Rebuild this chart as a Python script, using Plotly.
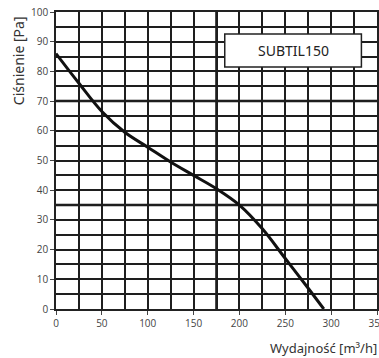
import plotly.graph_objects as go

flow = [0, 25, 50, 75, 100, 125, 150, 175, 200, 225, 250, 275, 292]
pressure = [86, 76, 66.5, 59.5, 54.5, 49.5, 45, 40.5, 35, 27, 17, 7, 0]
x_ticks = [0, 50, 100, 150, 200, 250, 300, 350]
y_ticks = [0, 10, 20, 30, 40, 50, 60, 70, 80, 90, 100]
model = "SUBTIL150"

fig = go.Figure()
fig.add_trace(go.Scatter(x=flow, y=pressure, mode="lines",
                         line=dict(color="#111111", width=3, shape="spline", smoothing=1.0),
                         showlegend=False, hoverinfo="skip"))

grid_col = "#1e1e1e"
tick_font = dict(family="Open Sans", size=10, color="#444")
fig.update_xaxes(range=[0, 350], tickvals=x_ticks, ticktext=[str(v) for v in x_ticks],
                 showgrid=True, gridcolor=grid_col, gridwidth=1.5,
                 minor=dict(dtick=25, tick0=0, showgrid=True, gridcolor=grid_col, gridwidth=1.5),
                 showline=True, linecolor="#222", linewidth=2, mirror=True,
                 ticks="outside", ticklen=4, tickcolor="#444", tickwidth=1,
                 tickfont=tick_font, ticklabeloverflow="allow",
                 zeroline=False, fixedrange=True, automargin=False)
fig.update_yaxes(range=[0, 100], tickvals=y_ticks, ticktext=[str(v) for v in y_ticks],
                 showgrid=True, gridcolor=grid_col, gridwidth=1.5,
                 minor=dict(dtick=5, tick0=0, showgrid=True, gridcolor=grid_col, gridwidth=1.5),
                 showline=True, linecolor="#222", linewidth=1.5, mirror=True,
                 ticks="outside", ticklen=4, tickcolor="#444", tickwidth=1,
                 tickfont=tick_font, ticklabeloverflow="allow",
                 zeroline=False, fixedrange=True, automargin=False)

# heavier grid lines as in the original print
for yv in [35, 70]:
    fig.add_shape(type="line", xref="x", yref="y", x0=0, x1=350, y0=yv, y1=yv,
                  line=dict(color="#111", width=2.5), layer="below")
fig.add_shape(type="line", xref="x", yref="y", x0=175, x1=175, y0=0, y1=100,
              line=dict(color="#111", width=2.5), layer="below")

# model label box
fig.add_shape(type="rect", xref="x", yref="y", x0=184, x1=333, y0=81.5, y1=92.6,
              line=dict(color="#222", width=1.5), fillcolor="white", layer="above")
fig.add_annotation(x=258.5, y=87, xref="x", yref="y", text=model, showarrow=False,
                   xanchor="center", yanchor="middle",
                   font=dict(family="Noto Sans", size=14, color="#222"))

fig.add_annotation(xref="paper", yref="paper", x=-0.118, y=0.835, text="Ciśnienie [Pa]",
                   textangle=-90, showarrow=False, xanchor="center", yanchor="middle",
                   font=dict(family="Noto Sans", size=14, color="#333"))
fig.add_annotation(xref="paper", yref="paper", x=1.006, y=-0.131, xanchor="right",
                   yanchor="middle", text="Wydajność [m³/h]", showarrow=False,
                   font=dict(family="Noto Sans", size=13, color="#333"))

fig.update_layout(width=379, height=358, margin=dict(l=56, r=2, t=12, b=49, autoexpand=False),
                  paper_bgcolor="white", plot_bgcolor="white")
fig.write_html("out.html", config={"displayModeBar": False},
               post_script="document.body.style.margin='0';document.body.style.overflow='hidden';")
